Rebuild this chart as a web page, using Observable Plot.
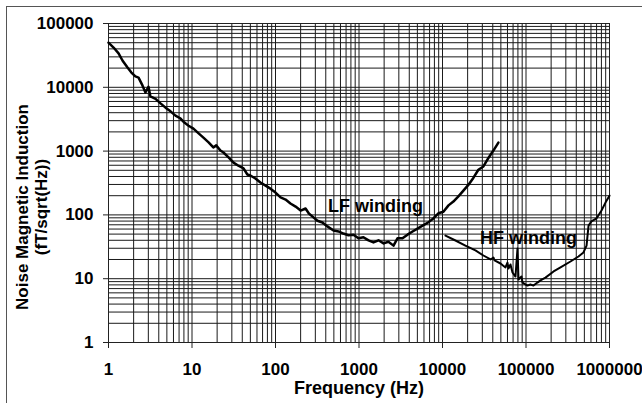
<!DOCTYPE html>
<html>
<head>
<meta charset="utf-8">
<script src="https://cdn.jsdelivr.net/npm/d3@7"></script>
<script src="https://cdn.jsdelivr.net/npm/@observablehq/plot@0.6"></script>
<style>
  html, body { margin: 0; padding: 0; background: #fff; overflow: hidden; }
  #wrap { position: relative; width: 642px; height: 403px; }
  #border { position: absolute; left: 6px; top: 6px; width: 700px; height: 500px; border: 1px solid #555; box-sizing: border-box; pointer-events: none; }
  svg { font-family: "Liberation Sans", Arial, sans-serif; }
</style>
</head>
<body>
<div id="wrap"><div id="border"></div></div>
<script>
// Frequency ticks (Hz) and noise ticks (fT/sqrt(Hz))
const xTicks = [1, 10, 100, 1000, 10000, 100000, 1000000];
const yTicks = [1, 10, 100, 1000, 10000, 100000];
const gridMultipliers = [1, 2, 3, 4, 5, 6, 7, 8, 9];

// LF winding: frequency (Hz) and noise (fT/sqrt(Hz))
const lfFreq = [1.0, 1.15, 1.32, 1.47, 1.69, 1.88, 2.1, 2.29, 2.55, 2.77, 3.01, 3.18, 3.66, 4.2, 4.82, 5.53, 6.34, 7.3, 8.1, 9.1,
  10.4, 12, 13.7, 15.8, 18, 19.5, 21.9, 23.8, 27.4, 31.4, 36, 41.4, 46, 50, 57.5, 66, 76, 87, 100, 115,
  132, 151, 174, 200, 229, 251, 278, 318, 365, 418, 495, 569, 650, 748, 860, 986, 1130, 1300, 1490, 1710,
  1970, 2250, 2590, 2890, 3320, 3810, 4380, 5020, 5770, 6620, 7770, 8930, 10250, 11800, 13500, 15500, 17800, 20400, 23400, 26900,
  30900, 35500, 40700, 46700];
const lfNoise = [50000, 42000, 34000, 26300, 20400, 17000, 14800, 14200, 10700, 8300, 10200, 7200, 6600, 5600, 4800, 4200, 3600, 3240, 2800, 2500,
  2250, 1900, 1630, 1370, 1140, 1230, 1020, 950, 795, 660, 590, 535, 430, 415, 372, 322, 288, 258, 224, 188,
  174, 151, 135, 117, 126, 105, 94, 81, 76, 66, 57, 55, 51, 48, 49, 43, 44.6, 39.8, 37, 40,
  35.7, 38, 33, 43, 43, 49, 55, 61, 68, 75, 88, 106, 112, 141, 162, 195, 240, 295, 380, 510,
  575, 780, 1020, 1360];

// HF winding: frequency (Hz) and noise (fT/sqrt(Hz))
const hfFreq = [10860, 14300, 18800, 24800, 30900, 37600, 40800, 42000, 49500, 56800, 60000, 61700, 65200, 68900, 74800, 79100, 81300, 88300, 90800, 104000,
  113000, 123000, 137000, 149000, 171000, 214000, 259000, 341000, 425000, 488000, 531000, 561000, 608000, 698000, 802000, 895000, 1000000];
const hfNoise = [47.5, 39.7, 33.1, 27.7, 23.1, 20.0, 21.5, 19.3, 17.3, 15.0, 17.9, 14.4, 16.7, 12.5, 10.8, 29.7, 9.7, 10.8, 8.7, 7.8,
  8.1, 7.8, 8.7, 9.4, 10.4, 13.0, 15.0, 18.6, 22.3, 25.8, 33.1, 68, 79, 88, 117, 156, 200];

// Curve labels
const labelText = ["LF winding", "HF winding"];
const labelFreq = [1580, 107000];
const labelNoise = [135, 42.7];

const lf = lfFreq.map((f, i) => ({f, v: lfNoise[i]}));
const hf = hfFreq.map((f, i) => ({f, v: hfNoise[i]}));
const labels = labelText.map((t, i) => ({t, f: labelFreq[i], v: labelNoise[i]}));

const decades = (ticks) => ticks.slice(0, -1).flatMap(d => gridMultipliers.map(m => d * m)).concat(ticks.slice(-1));
const xGrid = decades(xTicks);
const yGrid = decades(yTicks);

const font = "Liberation Sans, Arial, sans-serif";

const chart = Plot.plot({
  width: 642,
  height: 403,
  marginLeft: 108,
  marginRight: 33,
  marginTop: 23,
  marginBottom: 61,
  style: {background: "transparent", fontFamily: font, fontWeight: "bold", fontSize: "17px", color: "#000"},
  x: {type: "log", domain: [1, 1000000]},
  y: {type: "log", domain: [1, 100000]},
  marks: [
    Plot.ruleX(xGrid, {stroke: "#1a1a1a", strokeWidth: 1}),
    Plot.ruleY(yGrid, {stroke: "#1a1a1a", strokeWidth: 1}),
    Plot.frame({stroke: "#222"}),
    Plot.axisY({ticks: yTicks, tickFormat: d3.format("d"), tickSize: 5, tickPadding: 10, label: null, fontSize: 17, fontWeight: "bold", stroke: "#222"}),
    Plot.axisX({ticks: xTicks, tickFormat: d3.format("d"), tickSize: 6, tickPadding: 14, label: null, fontSize: 17, fontWeight: "bold", stroke: "#222"}),
    Plot.line(lf, {x: "f", y: "v", stroke: "#000", strokeWidth: 2.5}),
    Plot.line(hf, {x: "f", y: "v", stroke: "#000", strokeWidth: 2}),
    Plot.text(labels, {x: "f", y: "v", text: "t", fontSize: 18, fontWeight: "bold", fill: "#000"}),
    Plot.text(["Frequency (Hz)"], {frameAnchor: "bottom", textAnchor: "middle", lineAnchor: "middle", dy: 46, text: d => d, fontSize: 18, fontWeight: "bold", fill: "#000"}),
    Plot.text(["Noise Magnetic Induction"], {frameAnchor: "left", textAnchor: "middle", dx: -86, dy: 24, rotate: -90, text: d => d, fontSize: 17, fontWeight: "bold", fill: "#000"}),
    Plot.text(["(fT/sqrt(Hz))"], {frameAnchor: "left", textAnchor: "middle", dx: -67, dy: 24, rotate: -90, text: d => d, fontSize: 17, fontWeight: "bold", fill: "#000"})
  ]
});
chart.style.position = "absolute";
chart.style.left = "0px";
chart.style.top = "0px";
document.getElementById("wrap").appendChild(chart);
</script>
</body>
</html>
